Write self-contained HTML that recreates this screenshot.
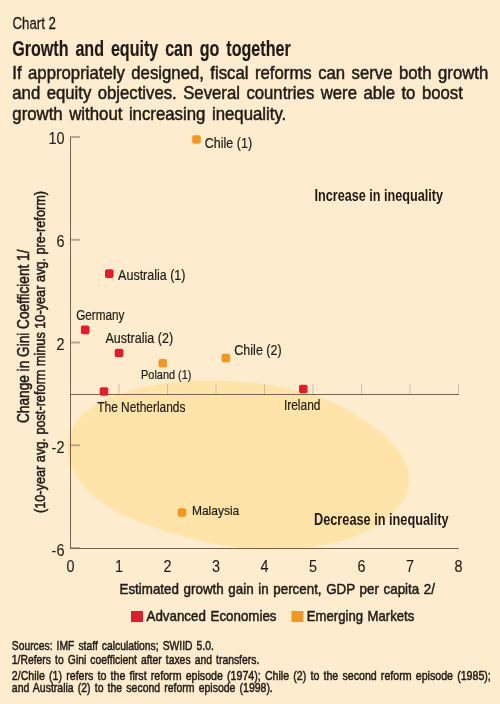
<!DOCTYPE html>
<html><head><meta charset="utf-8"><style>
html,body{margin:0;padding:0;background:#FDECCE;width:500px;height:704px;overflow:hidden}
svg{display:block;font-family:"Liberation Sans",sans-serif}

</style></head><body>
<svg width="500" height="704" viewBox="0 0 500 704">
<rect x="0" y="0" width="500" height="704" fill="#FDECCE"/>
<clipPath id="pc"><rect x="0" y="0" width="500" height="548"/></clipPath>
<path d="M405.5 463.5 L406.8 466.7 L407.8 470.0 L408.5 473.4 L409.0 476.7 L409.1 480.1 L408.9 483.5 L408.4 487.0 L407.6 490.4 L406.4 493.8 L404.9 497.3 L403.0 500.7 L400.8 504.0 L398.3 507.3 L395.4 510.6 L392.2 513.8 L388.7 517.0 L384.8 520.0 L380.6 523.0 L376.1 525.9 L371.3 528.6 L366.2 531.2 L360.8 533.7 L355.1 536.1 L349.2 538.2 L343.0 540.3 L336.6 542.1 L330.0 543.7 L323.3 545.2 L316.3 546.5 L309.3 547.5 L302.1 548.4 L294.9 549.0 L287.7 549.5 L280.4 549.7 L273.1 549.8 L265.9 549.7 L258.8 549.3 L251.8 548.9 L244.8 548.2 L238.0 547.4 L231.3 546.5 L224.8 545.5 L218.4 544.4 L212.2 543.2 L206.1 541.9 L200.1 540.5 L194.3 539.1 L188.6 537.7 L183.1 536.2 L177.6 534.7 L172.3 533.1 L167.1 531.5 L161.9 529.9 L156.8 528.2 L151.9 526.5 L146.9 524.7 L142.1 522.9 L137.4 521.0 L132.7 519.1 L128.2 517.1 L123.8 515.1 L119.5 512.9 L115.3 510.7 L111.3 508.5 L107.4 506.1 L103.7 503.7 L100.1 501.2 L96.8 498.6 L93.6 496.0 L90.6 493.3 L87.8 490.6 L85.2 487.7 L82.8 484.9 L80.5 482.0 L78.4 479.0 L76.5 476.0 L74.8 472.9 L73.3 469.8 L71.9 466.7 L70.7 463.5 L69.7 460.3 L68.9 457.0 L68.3 453.7 L67.9 450.3 L67.8 447.0 L68.0 443.6 L68.4 440.1 L69.1 436.7 L70.1 433.3 L71.5 429.8 L73.3 426.4 L75.4 423.0 L77.9 419.7 L80.7 416.4 L84.0 413.3 L87.7 410.2 L91.7 407.2 L96.2 404.3 L100.9 401.6 L106.1 399.1 L111.5 396.7 L117.2 394.4 L123.2 392.4 L129.4 390.5 L135.8 388.8 L142.4 387.3 L149.1 385.9 L155.9 384.8 L162.7 383.8 L169.7 382.9 L176.6 382.3 L183.6 381.7 L190.5 381.3 L197.5 381.0 L204.3 380.9 L211.2 380.8 L218.0 380.9 L224.7 381.1 L231.4 381.3 L238.0 381.7 L244.5 382.2 L251.0 382.8 L257.4 383.5 L263.7 384.3 L269.9 385.1 L276.0 386.1 L282.0 387.2 L287.9 388.4 L293.7 389.7 L299.4 391.1 L304.9 392.6 L310.2 394.3 L315.5 396.0 L320.5 397.7 L325.4 399.6 L330.1 401.6 L334.7 403.6 L339.1 405.7 L343.4 407.8 L347.5 410.0 L351.5 412.3 L355.3 414.6 L359.0 416.9 L362.6 419.3 L366.2 421.7 L369.6 424.1 L372.9 426.6 L376.1 429.1 L379.2 431.7 L382.3 434.3 L385.2 437.0 L388.1 439.7 L390.8 442.5 L393.4 445.3 L395.9 448.2 L398.2 451.1 L400.3 454.1 L402.3 457.2 L404.0 460.3 Z" fill="#FEE4A9" clip-path="url(#pc)"/>
<line x1="70" y1="137" x2="80" y2="137" stroke="#b9a88b" stroke-width="2"/>
<line x1="70" y1="239.75" x2="80" y2="239.75" stroke="#b9a88b" stroke-width="2"/>
<line x1="70" y1="342.5" x2="80" y2="342.5" stroke="#b9a88b" stroke-width="2"/>
<line x1="70" y1="445.25" x2="80" y2="445.25" stroke="#b9a88b" stroke-width="2"/>
<line x1="70" y1="548" x2="80" y2="548" stroke="#b9a88b" stroke-width="2"/>
<line x1="119.0" y1="384" x2="119.0" y2="394" stroke="#cdbfa4" stroke-width="1"/>
<line x1="167.5" y1="384" x2="167.5" y2="394" stroke="#cdbfa4" stroke-width="1"/>
<line x1="216.0" y1="384" x2="216.0" y2="394" stroke="#cdbfa4" stroke-width="1"/>
<line x1="264.5" y1="384" x2="264.5" y2="394" stroke="#cdbfa4" stroke-width="1"/>
<line x1="313.0" y1="384" x2="313.0" y2="394" stroke="#cdbfa4" stroke-width="1"/>
<line x1="361.5" y1="384" x2="361.5" y2="394" stroke="#cdbfa4" stroke-width="1"/>
<line x1="410.0" y1="384" x2="410.0" y2="394" stroke="#cdbfa4" stroke-width="1"/>
<line x1="458.5" y1="384" x2="458.5" y2="394" stroke="#cdbfa4" stroke-width="1"/>
<line x1="70.5" y1="137" x2="70.5" y2="548.5" stroke="#76654d" stroke-width="1"/>
<line x1="70" y1="394.5" x2="459" y2="394.5" stroke="#76654d" stroke-width="1"/>
<line x1="70" y1="548.5" x2="459" y2="548.5" stroke="#76654d" stroke-width="1"/>
<rect x="192.2" y="135.2" width="8.6" height="8.6" rx="2" fill="#F5961F"/>
<rect x="105.0" y="269.3" width="8.6" height="8.6" rx="2" fill="#E31B2A"/>
<rect x="80.9" y="325.6" width="8.6" height="8.6" rx="2" fill="#E31B2A"/>
<rect x="114.7" y="348.7" width="8.6" height="8.6" rx="2" fill="#E31B2A"/>
<rect x="158.5" y="358.9" width="8.6" height="8.6" rx="2" fill="#F5961F"/>
<rect x="221.5" y="353.7" width="8.6" height="8.6" rx="2" fill="#F5961F"/>
<rect x="99.7" y="387.2" width="8.6" height="8.6" rx="2" fill="#E31B2A"/>
<rect x="299.0" y="384.7" width="8.6" height="8.6" rx="2" fill="#E31B2A"/>
<rect x="177.7" y="508.2" width="8.6" height="8.6" rx="2" fill="#F5961F"/>
<rect x="131" y="611" width="12" height="11" fill="#E31B2A"/>
<rect x="291.5" y="611" width="12" height="11" fill="#F5961F"/>
<filter id="gs" x="0" y="0" width="500" height="704" filterUnits="userSpaceOnUse"><feOffset dx="0" dy="0"/></filter>
<g filter="url(#gs)">
<text x="12.5" y="28.8" textLength="43.5" lengthAdjust="spacingAndGlyphs" font-size="16.8" font-weight="normal" fill="#211a14" stroke="#211a14" stroke-width="0.3" >Chart 2</text>
<text x="12.2" y="55.5" textLength="278.5" lengthAdjust="spacingAndGlyphs" font-size="21.5" font-weight="bold" fill="#211a14" stroke="#211a14" stroke-width="0.15" word-spacing="3.2">Growth and equity can go together</text>
<text x="12.3" y="78.6" textLength="476.0" lengthAdjust="spacingAndGlyphs" font-size="18.5" font-weight="normal" fill="#211a14" stroke="#211a14" stroke-width="0.5" word-spacing="2">If appropriately designed, fiscal reforms can serve both growth</text>
<text x="12.3" y="99.4" textLength="450.5" lengthAdjust="spacingAndGlyphs" font-size="18.5" font-weight="normal" fill="#211a14" stroke="#211a14" stroke-width="0.5" word-spacing="2">and equity objectives. Several countries were able to boost</text>
<text x="12.3" y="120.0" textLength="274.0" lengthAdjust="spacingAndGlyphs" font-size="18.5" font-weight="normal" fill="#211a14" stroke="#211a14" stroke-width="0.5" word-spacing="2">growth without increasing inequality.</text>
<text x="48.3828125" y="143.6" textLength="16.0" lengthAdjust="spacingAndGlyphs" font-size="16" font-weight="normal" fill="#211a14" stroke="#211a14" stroke-width="0.1" >10</text>
<text x="56.39140625" y="247.35" textLength="8.0" lengthAdjust="spacingAndGlyphs" font-size="16" font-weight="normal" fill="#211a14" stroke="#211a14" stroke-width="0.1" >6</text>
<text x="56.39140625" y="350.1" textLength="8.0" lengthAdjust="spacingAndGlyphs" font-size="16" font-weight="normal" fill="#211a14" stroke="#211a14" stroke-width="0.1" >2</text>
<text x="51.59609375000001" y="452.85" textLength="12.8" lengthAdjust="spacingAndGlyphs" font-size="16" font-weight="normal" fill="#211a14" stroke="#211a14" stroke-width="0.1" >-2</text>
<text x="51.59609375000001" y="555.6" textLength="12.8" lengthAdjust="spacingAndGlyphs" font-size="16" font-weight="normal" fill="#211a14" stroke="#211a14" stroke-width="0.1" >-6</text>
<text x="66.495703125" y="572.3" textLength="8.0" lengthAdjust="spacingAndGlyphs" font-size="16" font-weight="normal" fill="#211a14" stroke="#211a14" stroke-width="0.1" >0</text>
<text x="114.995703125" y="572.3" textLength="8.0" lengthAdjust="spacingAndGlyphs" font-size="16" font-weight="normal" fill="#211a14" stroke="#211a14" stroke-width="0.1" >1</text>
<text x="163.495703125" y="572.3" textLength="8.0" lengthAdjust="spacingAndGlyphs" font-size="16" font-weight="normal" fill="#211a14" stroke="#211a14" stroke-width="0.1" >2</text>
<text x="211.995703125" y="572.3" textLength="8.0" lengthAdjust="spacingAndGlyphs" font-size="16" font-weight="normal" fill="#211a14" stroke="#211a14" stroke-width="0.1" >3</text>
<text x="260.495703125" y="572.3" textLength="8.0" lengthAdjust="spacingAndGlyphs" font-size="16" font-weight="normal" fill="#211a14" stroke="#211a14" stroke-width="0.1" >4</text>
<text x="308.995703125" y="572.3" textLength="8.0" lengthAdjust="spacingAndGlyphs" font-size="16" font-weight="normal" fill="#211a14" stroke="#211a14" stroke-width="0.1" >5</text>
<text x="357.495703125" y="572.3" textLength="8.0" lengthAdjust="spacingAndGlyphs" font-size="16" font-weight="normal" fill="#211a14" stroke="#211a14" stroke-width="0.1" >6</text>
<text x="405.995703125" y="572.3" textLength="8.0" lengthAdjust="spacingAndGlyphs" font-size="16" font-weight="normal" fill="#211a14" stroke="#211a14" stroke-width="0.1" >7</text>
<text x="454.495703125" y="572.3" textLength="8.0" lengthAdjust="spacingAndGlyphs" font-size="16" font-weight="normal" fill="#211a14" stroke="#211a14" stroke-width="0.1" >8</text>
<text x="204.7" y="148" textLength="47.4" lengthAdjust="spacingAndGlyphs" font-size="14.3" font-weight="normal" fill="#211a14" stroke="#211a14" stroke-width="0.2" >Chile (1)</text>
<text x="118.1" y="279.6" textLength="67.4" lengthAdjust="spacingAndGlyphs" font-size="14.3" font-weight="normal" fill="#211a14" stroke="#211a14" stroke-width="0.2" >Australia (1)</text>
<text x="76.2" y="319.9" textLength="48.3" lengthAdjust="spacingAndGlyphs" font-size="14.3" font-weight="normal" fill="#211a14" stroke="#211a14" stroke-width="0.2" >Germany</text>
<text x="105.5" y="343.4" textLength="67.6" lengthAdjust="spacingAndGlyphs" font-size="14.3" font-weight="normal" fill="#211a14" stroke="#211a14" stroke-width="0.2" >Australia (2)</text>
<text x="141.0" y="378.9" textLength="50.5" lengthAdjust="spacingAndGlyphs" font-size="13" font-weight="normal" fill="#211a14" stroke="#211a14" stroke-width="0.2" >Poland (1)</text>
<text x="234.3" y="355" textLength="47.4" lengthAdjust="spacingAndGlyphs" font-size="14.3" font-weight="normal" fill="#211a14" stroke="#211a14" stroke-width="0.2" >Chile (2)</text>
<text x="97.2" y="411.6" textLength="88.3" lengthAdjust="spacingAndGlyphs" font-size="14.3" font-weight="normal" fill="#211a14" stroke="#211a14" stroke-width="0.2" >The Netherlands</text>
<text x="283.9" y="409.7" textLength="36.6" lengthAdjust="spacingAndGlyphs" font-size="14.3" font-weight="normal" fill="#211a14" stroke="#211a14" stroke-width="0.2" >Ireland</text>
<text x="192.0" y="514.7" textLength="47.2" lengthAdjust="spacingAndGlyphs" font-size="13" font-weight="normal" fill="#211a14" stroke="#211a14" stroke-width="0.2" >Malaysia</text>
<text x="314.5" y="200.5" textLength="128.5" lengthAdjust="spacingAndGlyphs" font-size="16" font-weight="bold" fill="#211a14" stroke="#211a14" stroke-width="0" >Increase in inequality</text>
<text x="314" y="525.1" textLength="134.5" lengthAdjust="spacingAndGlyphs" font-size="16" font-weight="bold" fill="#211a14" stroke="#211a14" stroke-width="0" >Decrease in inequality</text>
<g transform="translate(28.8 423) rotate(-90)"><text x="0" y="0" textLength="173.5" lengthAdjust="spacingAndGlyphs" font-size="15.6" font-weight="normal" fill="#211a14" stroke="#211a14" stroke-width="0.5" >Change in Gini Coefficient 1/</text></g>
<g transform="translate(45 513) rotate(-90)"><text x="0" y="0" textLength="322.0" lengthAdjust="spacingAndGlyphs" font-size="14" font-weight="normal" fill="#211a14" stroke="#211a14" stroke-width="0.5" >(10-year avg. post-reform minus 10-year avg. pre-reform)</text></g>
<text x="119.5" y="594" textLength="315.5" lengthAdjust="spacingAndGlyphs" font-size="14.6" font-weight="normal" fill="#211a14" stroke="#211a14" stroke-width="0.5" word-spacing="1">Estimated growth gain in percent, GDP per capita 2/</text>
<text x="146.5" y="621.4" textLength="130.0" lengthAdjust="spacingAndGlyphs" font-size="14.6" font-weight="normal" fill="#211a14" stroke="#211a14" stroke-width="0.5" word-spacing="1">Advanced Economies</text>
<text x="306.8" y="621.4" textLength="107.5" lengthAdjust="spacingAndGlyphs" font-size="14.6" font-weight="normal" fill="#211a14" stroke="#211a14" stroke-width="0.5" word-spacing="1">Emerging Markets</text>
<text x="11.8" y="650.4" textLength="202.0" lengthAdjust="spacingAndGlyphs" font-size="13" font-weight="normal" fill="#211a14" stroke="#211a14" stroke-width="0.5" word-spacing="1.5">Sources: IMF staff calculations; SWIID 5.0.</text>
<text x="11.8" y="663.6" textLength="247.5" lengthAdjust="spacingAndGlyphs" font-size="13" font-weight="normal" fill="#211a14" stroke="#211a14" stroke-width="0.5" word-spacing="1.5">1/Refers to Gini coefficient after taxes and transfers.</text>
<text x="11.8" y="679.6" textLength="479.0" lengthAdjust="spacingAndGlyphs" font-size="13" font-weight="normal" fill="#211a14" stroke="#211a14" stroke-width="0.5" word-spacing="1.5">2/Chile (1) refers to the first reform episode (1974); Chile (2) to the second reform episode (1985);</text>
<text x="11.8" y="692.3" textLength="261.0" lengthAdjust="spacingAndGlyphs" font-size="13" font-weight="normal" fill="#211a14" stroke="#211a14" stroke-width="0.5" word-spacing="1.5">and Australia (2) to the second reform episode (1998).</text>
</g>
</svg>
</body></html>
